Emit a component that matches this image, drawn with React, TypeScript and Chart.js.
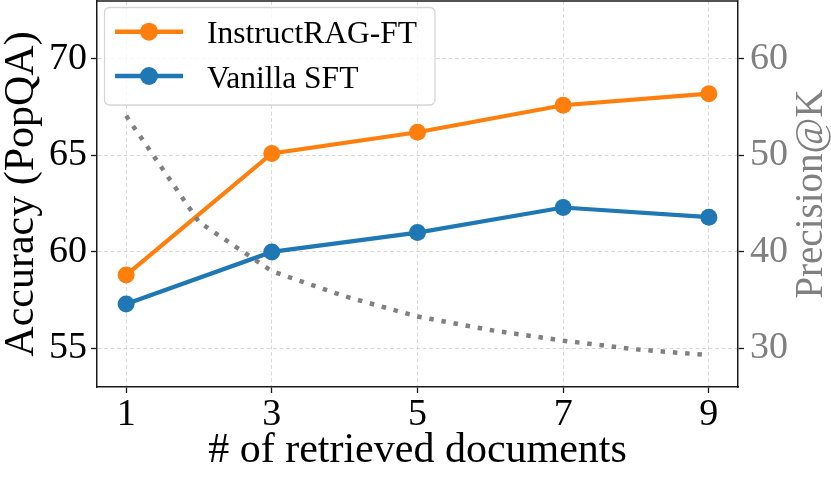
import React, { useEffect, useRef } from 'react';
import { Chart, registerables } from 'chart.js';

Chart.register(...registerables);

// ---- data ----
const seriesK = [1, 3, 5, 7, 9];
const allK = [1, 2, 3, 4, 5, 6, 7, 8, 9];
const instructRAG = [58.8, 65.1, 66.2, 67.6, 68.2];
const vanillaSFT = [57.3, 60.0, 61.0, 62.3, 61.8];
const precisionAtK = [54.1, 43.1, 38.0, 35.4, 33.3, 31.9, 30.8, 29.9, 29.3];
const xTicks = [1, 3, 5, 7, 9];
const leftTicks = [55, 60, 65, 70];
const rightTicks = [30, 40, 50, 60];
const legendLabels = ['InstructRAG-FT', 'Vanilla SFT'];
const rightTitle = 'Precision@K';

const FONT = "'Liberation Serif', 'Times New Roman', serif";
const ORANGE = '#ff7f0e';
const BLUE = '#1f77b4';
const GRAY = '#808080';
const AXIS = '#1a1a1a';

const gridBase = {
  color: '#d0d0d0',
  lineWidth: 0.8,
  tickColor: AXIS,
  tickLength: 6,
  tickWidth: 1.3,
};

const framePlugin = {
  id: 'frameTop',
  afterDraw(chart: any) {
    const { ctx, chartArea } = chart;
    ctx.save();
    ctx.strokeStyle = AXIS;
    ctx.lineWidth = 1.5;
    ctx.beginPath();
    ctx.moveTo(chartArea.left, chartArea.top);
    ctx.lineTo(chartArea.right, chartArea.top);
    ctx.stroke();
    // right axis title, reading bottom-to-top like matplotlib's twin axis label
    ctx.translate(822, (chartArea.top + chartArea.bottom) / 2);
    ctx.rotate(-Math.PI / 2);
    ctx.fillStyle = GRAY;
    ctx.font = `39px ${FONT}`;
    ctx.textAlign = 'center';
    ctx.textBaseline = 'alphabetic';
    ctx.fillText(rightTitle, 0, 0);
    ctx.restore();
  },
};

const legendPlugin = {
  id: 'boxLegend',
  afterDatasetsDraw(chart: any) {
    const { ctx } = chart;
    const items = chart.data.datasets.filter((d: any) => legendLabels.includes(d.label));
    const bx = 104.5, by = 7.5, bw = 330.5, bh = 97.5, r = 5;
    ctx.save();
    ctx.beginPath();
    ctx.moveTo(bx + r, by);
    ctx.lineTo(bx + bw - r, by);
    ctx.arcTo(bx + bw, by, bx + bw, by + r, r);
    ctx.lineTo(bx + bw, by + bh - r);
    ctx.arcTo(bx + bw, by + bh, bx + bw - r, by + bh, r);
    ctx.lineTo(bx + r, by + bh);
    ctx.arcTo(bx, by + bh, bx, by + bh - r, r);
    ctx.lineTo(bx, by + r);
    ctx.arcTo(bx, by, bx + r, by, r);
    ctx.closePath();
    ctx.fillStyle = 'rgba(255,255,255,0.8)';
    ctx.fill();
    ctx.strokeStyle = '#d6d6d6';
    ctx.lineWidth = 1.3;
    ctx.stroke();

    items.forEach((d: any, i: number) => {
      const cy = 31.7 + i * 44.3;
      ctx.strokeStyle = d.borderColor;
      ctx.lineWidth = 4.5;
      ctx.lineCap = 'butt';
      ctx.beginPath();
      ctx.moveTo(115, cy);
      ctx.lineTo(183, cy);
      ctx.stroke();
      ctx.fillStyle = d.borderColor;
      ctx.beginPath();
      ctx.arc(149, cy, 9, 0, Math.PI * 2);
      ctx.fill();
      ctx.fillStyle = '#000';
      ctx.font = `31.5px ${FONT}`;
      ctx.textBaseline = 'alphabetic';
      ctx.textAlign = 'left';
      ctx.fillText(d.label, 207, cy + 11.6);
    });
    ctx.restore();
  },
};

export default function App() {
  const ref = useRef<HTMLCanvasElement>(null);

  useEffect(() => {
    const chart = new Chart(ref.current as HTMLCanvasElement, {
      type: 'line',
      data: {
        datasets: [
          {
            label: 'Precision@K',
            data: allK.map((k, i) => ({ x: k, y: precisionAtK[i] })),
            yAxisID: 'y2',
            borderColor: GRAY,
            borderWidth: 4.5,
            borderDash: [4.5, 7.8],
            borderCapStyle: 'butt',
            pointRadius: 0,
            fill: false,
            tension: 0,
            order: 0,
          },
          {
            label: legendLabels[0],
            data: seriesK.map((k, i) => ({ x: k, y: instructRAG[i] })),
            yAxisID: 'y',
            borderColor: ORANGE,
            backgroundColor: ORANGE,
            borderWidth: 4.2,
            pointRadius: 8.5,
            pointBorderWidth: 0,
            pointBackgroundColor: ORANGE,
            fill: false,
            tension: 0,
            order: 1,
          },
          {
            label: legendLabels[1],
            data: seriesK.map((k, i) => ({ x: k, y: vanillaSFT[i] })),
            yAxisID: 'y',
            borderColor: BLUE,
            backgroundColor: BLUE,
            borderWidth: 4.2,
            pointRadius: 8.5,
            pointBorderWidth: 0,
            pointBackgroundColor: BLUE,
            fill: false,
            tension: 0,
            order: 2,
          },
        ],
      },
      options: {
        animation: false,
        responsive: false,
        maintainAspectRatio: false,
        layout: { autoPadding: false, padding: { top: 1, left: 0, right: 0, bottom: 0 } },
        plugins: {
          legend: { display: false },
          tooltip: { enabled: false },
        },
        scales: {
          x: {
            type: 'linear',
            position: 'bottom',
            min: 0.6,
            max: 9.4,
            afterBuildTicks: (s: any) => {
              s.ticks = xTicks.map((v) => ({ value: v }));
            },
            afterFit: (s: any) => {
              s.height = 93;
              s.paddingLeft = 0;
              s.paddingRight = 0;
            },
            ticks: {
              font: { family: FONT, size: 38, lineHeight: 1 },
              color: '#000',
              padding: 3,
              maxRotation: 0,
              autoSkip: false,
            },
            grid: { ...gridBase },
            border: { color: AXIS, width: 1.5, dash: [4, 2.5] },
            title: {
              display: true,
              text: '# of retrieved documents',
              font: { family: FONT, size: 42, lineHeight: 1 },
              color: '#000',
              padding: { top: 0, bottom: 8 },
            },
          },
          y: {
            type: 'linear',
            position: 'left',
            min: 53,
            max: 73,
            afterBuildTicks: (s: any) => {
              s.ticks = leftTicks.map((v) => ({ value: v }));
            },
            afterFit: (s: any) => {
              s.width = 97;
              s.paddingTop = 0;
              s.paddingBottom = 0;
            },
            ticks: {
              font: { family: FONT, size: 38, lineHeight: 1 },
              color: '#000',
              padding: 4,
            },
            grid: { ...gridBase },
            border: { color: AXIS, width: 1.5, dash: [4, 2.5] },
            title: {
              display: true,
              text: 'Accuracy (PopQA)',
              font: { family: FONT, size: 42, lineHeight: 1 },
              color: '#000',
              padding: { top: 1.3, bottom: 0 },
            },
          },
          y2: {
            type: 'linear',
            position: 'right',
            min: 26,
            max: 66,
            afterBuildTicks: (s: any) => {
              s.ticks = rightTicks.map((v) => ({ value: v }));
            },
            afterFit: (s: any) => {
              s.width = 93;
              s.paddingTop = 0;
              s.paddingBottom = 0;
            },
            ticks: {
              font: { family: FONT, size: 38, lineHeight: 1 },
              color: GRAY,
              padding: 6,
            },
            grid: { ...gridBase, drawOnChartArea: false },
            border: { color: AXIS, width: 1.5 },
            title: { display: false },
          },
        },
      } as any,
      plugins: [framePlugin, legendPlugin],
    } as any);
    return () => chart.destroy();
  }, []);

  return (
    <div style={{ position: 'fixed', left: 0, top: 0, width: 831, height: 480, background: '#fff' }}>
      <canvas ref={ref} width={831} height={480} style={{ display: 'block', width: 831, height: 480 }} />
    </div>
  );
}
